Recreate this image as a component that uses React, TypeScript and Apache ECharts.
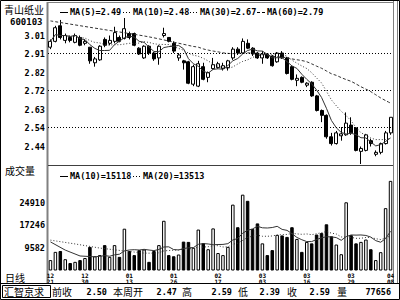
import React, { useEffect, useRef } from "react";
import * as echarts from "echarts";

const stockName = "青山纸业";
const stockCode = "600103";

const dates = [
  "12-21","12-22","12-23","12-24","12-27","12-28","12-29","12-30","12-31",
  "01-04","01-05","01-06","01-07","01-10","01-11","01-12","01-13","01-14",
  "01-17","01-18","01-19","01-20","01-21","01-24","01-25","01-26","01-27",
  "01-28","01-31","02-01","02-02","02-03","02-04","02-16","02-17","02-21",
  "02-22","02-23","02-24","02-25","02-28","03-01","03-02","03-03","03-04",
  "03-07","03-08","03-09","03-10","03-11","03-14","03-15","03-16","03-17",
  "03-18","03-21","03-22","03-23","03-24","03-25","03-28","03-29","03-30",
  "03-31","04-01","04-04","04-05","04-06","04-07","04-08"
];
const labelIdx = [0, 7, 16, 25, 34, 43, 52, 61, 69];

const opens = [
  2.95, 2.98, 3.06, 2.985, 3.0, 2.975, 3.0, 2.97, 2.95, 2.87,
  2.885, 2.99, 2.97, 2.98, 3.0, 2.995, 3.02, 3.02, 2.945, 2.895,
  2.955, 2.92, 2.895, 3.01, 3.0, 2.97, 2.895, 2.88, 2.875, 2.76,
  2.75, 2.85, 2.795, 2.84, 2.845, 2.84, 2.845, 2.895, 2.94, 2.92,
  2.97, 2.945, 2.92, 2.895, 2.915, 2.905, 2.875, 2.92, 2.895, 2.85,
  2.78, 2.795, 2.755, 2.77, 2.7, 2.625, 2.6, 2.49, 2.455, 2.495,
  2.5, 2.55, 2.535, 2.415, 2.42, 2.47, 2.4, 2.41, 2.455, 2.51
];
const closes = [
  2.98, 3.05, 3.0, 3.01, 2.985, 3.01, 2.96, 2.98, 2.88, 2.89,
  2.955, 2.96, 2.985, 3.025, 2.98, 3.045, 3.0, 2.96, 2.915, 2.955,
  2.92, 2.89, 2.955, 3.02, 2.98, 2.93, 2.91, 2.87, 2.765, 2.85,
  2.865, 2.785, 2.82, 2.86, 2.865, 2.855, 2.88, 2.94, 2.92, 2.98,
  2.945, 2.915, 2.895, 2.915, 2.895, 2.855, 2.92, 2.895, 2.815, 2.785,
  2.79, 2.77, 2.765, 2.7, 2.625, 2.6, 2.49, 2.455, 2.51, 2.505,
  2.56, 2.51, 2.42, 2.43, 2.5, 2.455, 2.41, 2.455, 2.51, 2.59
];
const highs = [
  2.99, 3.06, 3.09, 3.02, 3.01, 3.02, 3.01, 2.99, 2.95, 2.9,
  2.96, 3.0, 3.01, 3.055, 3.01, 3.1, 3.03, 3.025, 2.95, 2.96,
  2.96, 2.925, 2.96, 3.05, 3.0, 2.98, 2.92, 2.885, 2.88, 2.86,
  2.88, 2.87, 2.825, 2.895, 2.875, 2.87, 2.885, 2.95, 2.95, 2.995,
  2.99, 2.95, 2.925, 2.93, 2.92, 2.91, 2.925, 2.93, 2.9, 2.855,
  2.81, 2.8, 2.77, 2.775, 2.705, 2.63, 2.605, 2.51, 2.52, 2.54,
  2.615, 2.59, 2.54, 2.44, 2.505, 2.48, 2.42, 2.46, 2.52, 2.59
];
const lows = [
  2.94, 2.975, 2.99, 2.97, 2.975, 2.97, 2.955, 2.96, 2.865, 2.85,
  2.88, 2.95, 2.96, 2.97, 2.975, 2.99, 2.99, 2.955, 2.91, 2.89,
  2.91, 2.88, 2.86, 3.0, 2.975, 2.92, 2.88, 2.835, 2.76, 2.75,
  2.745, 2.78, 2.77, 2.835, 2.84, 2.83, 2.83, 2.885, 2.91, 2.915,
  2.94, 2.905, 2.89, 2.865, 2.89, 2.85, 2.87, 2.89, 2.81, 2.78,
  2.75, 2.765, 2.745, 2.695, 2.62, 2.565, 2.48, 2.445, 2.45, 2.47,
  2.495, 2.5, 2.415, 2.35, 2.415, 2.44, 2.39, 2.4, 2.45, 2.5
];
const volumes = [
  5300, 8100, 8400, 5600, 4300, 4700, 5300, 6000, 9800, 6600,
  7000, 10400, 6400, 10400, 6400, 16000, 8400, 7000, 8700, 8900,
  4700, 8400, 10400, 18700, 7000, 6600, 7200, 11600, 11500, 9500,
  15700, 11100, 9000, 16100, 7700, 7000, 9800, 24200, 16500, 27600,
  25500, 15900, 17800, 11000, 7000, 8700, 13900, 13700, 13200, 16500,
  12500, 8100, 11500, 11000, 14000, 14500, 17500, 13400, 10600, 7300,
  25000, 13800, 11000, 11500, 12300, 9000, 5300, 8000, 23000, 32300
];

// moving-average values before enough history is on the chart: [index, value]
const ma30Lead: [number, number][] = [[0, 3.085], [10, 3.044], [20, 3.003]];
const volMa10Lead: [number, number][] = [[0, 11500], [3, 8700], [6, 6700]];
const volMa20Lead: [number, number][] = [[0, 12100], [5, 10800], [10, 9400], [15, 8400]];

const priceTickLabels = ["2.44", "2.54", "2.63", "2.72", "2.82", "2.91", "3.01"];
const priceGridLines = [2.535, 2.725, 2.915];
const volTickLabels = ["9582", "17246", "24910"];

const maNames = ["MA(5)", "MA(10)", "MA(30)", "MA(60)"];
const maValues = ["2.49", "2.48", "2.67", "2.79"];
const volMaNames = ["MA(10)", "MA(20)"];
const volMaValues = ["15118", "13513"];

const weekLabels = ["前收", "本周开", "高", "低", "收", "量"];
const weekValues = ["2.50", "2.47", "2.59", "2.39", "2.59", "77656"];
const brokerName = "汇智京求";

function movingAvg(arr: number[], n: number) {
  return arr.map((_, i) => {
    const s = Math.max(0, i - n + 1);
    let sum = 0;
    for (let k = s; k <= i; k++) sum += arr[k];
    return +(sum / (i - s + 1)).toFixed(4);
  });
}
// full-window average from index n-1 on, preceded by values
function maWithLead(arr: number[], n: number, lead: [number, number][]) {
  const out: [number, number][] = [...lead];
  for (let i = n - 1; i < arr.length; i++) {
    let sum = 0;
    for (let k = i - n + 1; k <= i; k++) sum += arr[k];
    out.push([i, +(sum / n).toFixed(4)]);
  }
  return out;
}

const MONO = "DejaVu Sans Mono";
const CJK = "Noto Sans CJK SC";

export default function App() {
  const ref = useRef<HTMLDivElement>(null);
  useEffect(() => {
    if (!ref.current) return;
    const chart = echarts.init(ref.current, undefined, { renderer: "svg" });
    const candleData = opens.map((o, i) => [o, closes[i], lows[i], highs[i]]);
    const volData = volumes.map((v, i) => {
      const up = closes[i] >= opens[i];
      return {
        value: v,
        itemStyle: up
          ? { color: "#ffffff", borderColor: "#000", borderWidth: 1 }
          : { color: "#000000", borderColor: "#000", borderWidth: 1 },
      };
    });
    const ma5 = movingAvg(closes, 5);
    const ma10 = movingAvg(closes, 10);
    const ma30 = maWithLead(closes, 30, ma30Lead);
    const vma10 = maWithLead(volumes, 10, volMa10Lead);
    const vma20 = maWithLead(volumes, 20, volMa20Lead);

    const txt = (text: string, x: number, y: number, o: any = {}) => ({
      type: "text",
      x,
      y,
      silent: true,
      style: {
        text,
        fill: "#000",
        fontSize: o.fontSize ?? 9,
        fontFamily: o.fontFamily ?? MONO,
        fontWeight: o.fontWeight ?? "bold",
        align: o.align ?? "left",
        verticalAlign: "middle",
        textAlign: o.align ?? "left",
        textVerticalAlign: "middle",
      },
    });
    const ln = (x1: number, y1: number, x2: number, y2: number, o: any = {}) => ({
      type: "line",
      silent: true,
      shape: { x1, y1, x2, y2 },
      style: { stroke: o.stroke ?? "#000", lineWidth: o.lineWidth ?? 1, lineDash: o.lineDash ?? null },
    });

    const maLegendX = [60, 123, 190, 257];
    const maDash: any[] = [null, [1, 2], [1, 2], [3, 2]];
    const graphics: any[] = [
      { type: "rect", silent: true, shape: { x: 0.5, y: 0.5, width: 399, height: 299 }, style: { fill: "none", stroke: "#000", lineWidth: 1 } },
      ln(47.5, 2, 47.5, 283, { stroke: "#808080", lineWidth: 2 }),
      ln(48, 2.5, 394, 2.5, { stroke: "#808080" }),
      ln(48, 165.5, 393, 165.5, { stroke: "#404040" }),
      ln(393.5, 1, 393.5, 283, { stroke: "#808080" }),
      ln(397.5, 1, 397.5, 283, { stroke: "#808080" }),
      ln(0, 283.5, 400, 283.5, { stroke: "#000" }),
      { type: "rect", silent: true, shape: { x: 2.5, y: 285.5, width: 48, height: 12 }, style: { fill: "none", stroke: "#000", lineWidth: 1 } },
      txt(stockName, 4, 9, { fontFamily: CJK, fontWeight: "normal", fontSize: 10 }),
      txt(stockCode, 10, 22, { fontSize: 9 }),
      txt("成交量", 5, 170, { fontFamily: CJK, fontWeight: "normal", fontSize: 10 }),
      txt("日线", 5, 277, { fontFamily: CJK, fontWeight: "normal", fontSize: 10 }),
      txt(brokerName, 4, 291.5, { fontFamily: CJK, fontWeight: "normal", fontSize: 10 }),
    ];
    maNames.forEach((n, i) => {
      const x = maLegendX[i];
      graphics.push(ln(x, 12.5, x + 8, 12.5, { lineDash: maDash[i] }));
      graphics.push(txt(`${n}=${maValues[i]}`, x + 10, 12, { fontSize: 8.5 }));
    });
    const vmaX = [60, 133];
    const vmaDash: any[] = [null, [1, 2]];
    volMaNames.forEach((n, i) => {
      const x = vmaX[i];
      graphics.push(ln(x, 176.5, x + 8, 176.5, { lineDash: vmaDash[i] }));
      graphics.push(txt(`${n}=${volMaValues[i]}`, x + 10, 176, { fontSize: 8.5 }));
    });
    const wlX = [52, 113, 182, 238, 287, 337];
    const wvX = [107, 177, 232, 280, 330, 391];
    weekLabels.forEach((l, i) => {
      graphics.push(txt(l, wlX[i], 291.5, { fontFamily: CJK, fontWeight: "normal", fontSize: 10 }));
      graphics.push(txt(weekValues[i], wvX[i], 291.5, { fontSize: 8.5, align: "right" }));
    });

    const pMin = 2.345, pStep = 0.095;
    const priceFmt = (v: number) => {
      const k = Math.round((v - 2.44) / pStep);
      if (k < 0 || k >= priceTickLabels.length) return "";
      if (Math.abs(v - (2.44 + k * pStep)) > 0.01) return "";
      return priceTickLabels[k];
    };
    const vMin = 1918, vStep = 7664;
    const volFmt = (v: number) => {
      const k = Math.round((v - 9582) / vStep);
      if (k < 0 || k >= volTickLabels.length) return "";
      if (Math.abs(v - (9582 + k * vStep)) > 10) return "";
      return volTickLabels[k];
    };
    const axisLbl = { fontSize: 8.5, fontWeight: "bold", fontFamily: MONO, color: "#000", margin: 3 };
    const lineBase = { symbol: "none", silent: true };

    chart.setOption({
      animation: false,
      backgroundColor: "#ffffff",
      graphic: graphics,
      grid: [
        { left: 48, right: 7, top: 3, height: 162 },
        { left: 48, right: 7, top: 166, height: 104 },
      ],
      xAxis: [
        { type: "category", gridIndex: 0, data: dates, boundaryGap: true, axisLine: { show: false }, axisTick: { show: false }, axisLabel: { show: false }, splitLine: { show: false } },
        {
          type: "category", gridIndex: 1, data: dates, boundaryGap: true,
          axisLine: { show: false }, axisTick: { show: false }, splitLine: { show: false },
          axisLabel: {
            interval: (i: number) => labelIdx.includes(i),
            formatter: (v: string) => v.slice(0, 2) + "\n" + v.slice(3),
            fontSize: 6, lineHeight: 6.5, fontWeight: "bold", fontFamily: MONO, color: "#000", margin: 2,
          },
        },
      ],
      yAxis: [
        {
          type: "value", gridIndex: 0, min: pMin, max: 3.177, interval: pStep,
          axisLine: { show: false }, axisTick: { show: false }, splitLine: { show: false },
          axisLabel: { ...axisLbl, formatter: priceFmt, showMinLabel: false, showMaxLabel: false },
        },
        {
          type: "value", gridIndex: 1, min: vMin, max: 37370, interval: vStep,
          axisLine: { show: false }, axisTick: { show: false }, splitLine: { show: false },
          axisLabel: { ...axisLbl, formatter: volFmt, showMinLabel: false, showMaxLabel: false },
        },
      ],
      series: [
        {
          type: "candlestick", xAxisIndex: 0, yAxisIndex: 0, data: candleData, barWidth: 3.5,
          itemStyle: { color: "#ffffff", color0: "#000000", borderColor: "#000", borderColor0: "#000", borderWidth: 1 },
          markLine: {
            silent: true, symbol: "none", label: { show: false },
            lineStyle: { type: [1, 2], color: "#000", width: 1 },
            data: priceGridLines.map((v) => ({ yAxis: v })),
          },
        },
        { ...lineBase, type: "line", xAxisIndex: 0, yAxisIndex: 0, data: ma5, lineStyle: { color: "#333", width: 1 } },
        { ...lineBase, type: "line", xAxisIndex: 0, yAxisIndex: 0, data: ma10, lineStyle: { color: "#333", width: 1, type: [1, 2] } },
        { ...lineBase, type: "line", xAxisIndex: 0, yAxisIndex: 0, data: ma30, smooth: 0.3, lineStyle: { color: "#333", width: 1, type: [3, 2] } },
        { type: "bar", xAxisIndex: 1, yAxisIndex: 1, data: volData, barWidth: 3.5 },
        { ...lineBase, type: "line", xAxisIndex: 1, yAxisIndex: 1, data: vma10, lineStyle: { color: "#333", width: 1 } },
        { ...lineBase, type: "line", xAxisIndex: 1, yAxisIndex: 1, data: vma20, lineStyle: { color: "#333", width: 1, type: [1, 2] } },
      ],
    });
    return () => chart.dispose();
  }, []);
  return <div ref={ref} style={{ width: 400, height: 300, position: "absolute", left: 0, top: 0 }} />;
}
